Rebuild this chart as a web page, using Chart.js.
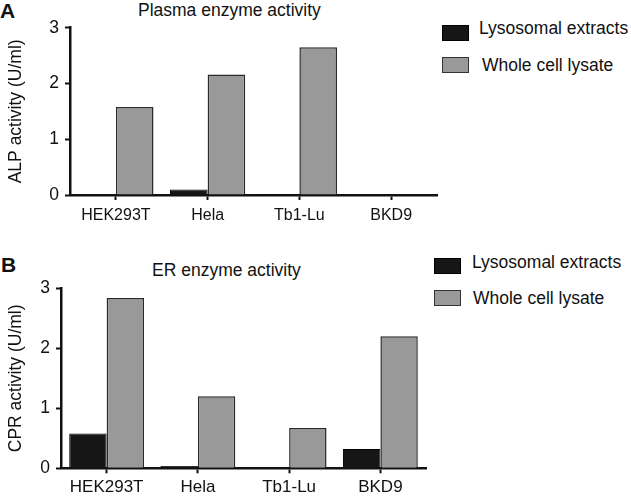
<!DOCTYPE html>
<html>
<head>
<meta charset="utf-8">
<script src="https://cdn.jsdelivr.net/npm/chart.js@4/dist/chart.umd.min.js"></script>
<style>
  html, body { margin: 0; padding: 0; background: #fff; }
  body { width: 631px; height: 496px; position: relative; overflow: hidden;
         font-family: "Liberation Sans", Arial, sans-serif; color: #111; }
  .t { position: absolute; white-space: nowrap; line-height: 1; }
  .sw { position: absolute; box-sizing: border-box; }
  canvas { position: absolute; left: 0; }
</style>
</head>
<body>
<div class="t" style="left:0px;top:0px;font-size:21px;font-weight:bold;">A</div>
<div class="t" style="left:1px;top:254px;font-size:21px;font-weight:bold;">B</div>
<div class="t" id="titleA" style="left:138px;top:2px;font-size:17.5px;"></div>
<div class="t" id="titleB" style="left:152px;top:262px;font-size:17.5px;"></div>

<div class="sw" style="left:442px;top:25px;width:27px;height:16px;background:#161616;border:1px solid #000;"></div>
<div class="sw" style="left:442px;top:57px;width:27px;height:16px;background:#999;border:1.5px solid #333;"></div>
<div class="t" id="legA1" style="left:479px;top:20px;font-size:17.5px;"></div>
<div class="t" id="legA2" style="left:482px;top:57px;font-size:17.5px;"></div>

<div class="sw" style="left:434px;top:258px;width:27px;height:16px;background:#161616;border:1px solid #000;"></div>
<div class="sw" style="left:434px;top:290px;width:27px;height:16px;background:#999;border:1.5px solid #333;"></div>
<div class="t" id="legB1" style="left:472px;top:254px;font-size:17.5px;"></div>
<div class="t" id="legB2" style="left:473px;top:290px;font-size:17.5px;"></div>

<canvas id="chartA" width="631" height="240" style="top:0px;"></canvas>
<canvas id="chartB" width="631" height="256" style="top:240px;"></canvas>

<script>
// ---- data ----
const categories = ["HEK293T", "Hela", "Tb1-Lu", "BKD9"];
const seriesNames = ["Lysosomal extracts", "Whole cell lysate"];
const alpLysosomal = [0, 0.10, 0.02, 0];
const alpWholeCell = [1.58, 2.16, 2.65, 0];
const cprLysosomal = [0.58, 0.04, 0.01, 0.32];
const cprWholeCell = [2.84, 1.20, 0.67, 2.20];
const yTickValues = [0, 1, 2, 3];
const titleA = "Plasma enzyme activity";
const titleB = "ER enzyme activity";
const yTitleA = "ALP activity (U/ml)";
const yTitleB = "CPR activity (U/ml)";

document.getElementById("titleA").textContent = titleA;
document.getElementById("titleB").textContent = titleB;
document.getElementById("legA1").textContent = seriesNames[0];
document.getElementById("legA2").textContent = seriesNames[1];
document.getElementById("legB1").textContent = seriesNames[0];
document.getElementById("legB2").textContent = seriesNames[1];

const FONT = "'Liberation Sans', Arial, sans-serif";
const INK = "#111";

function makeChart(id, lyso, whole, yTitle, cfg) {
  return new Chart(document.getElementById(id), {
    type: "bar",
    data: {
      labels: categories,
      datasets: [
        { label: seriesNames[0], data: lyso, backgroundColor: "#161616",
          borderColor: "#000", borderWidth: 1, borderSkipped: "bottom" },
        { label: seriesNames[1], data: whole, backgroundColor: "#999999",
          borderColor: "#2a2a2a", borderWidth: 1.5, borderSkipped: "bottom" }
      ]
    },
    options: {
      responsive: false,
      animation: false,
      devicePixelRatio: 1,
      layout: { padding: { left: 0, right: cfg.right, top: cfg.top, bottom: 0 } },
      datasets: { bar: { categoryPercentage: 0.82, barPercentage: 1.0 } },
      plugins: { legend: { display: false }, tooltip: { enabled: false }, title: { display: false } },
      scales: {
        x: {
          afterFit: (s) => { s.height = cfg.xh; },
          grid: { display: true, drawOnChartArea: false, drawTicks: true, tickLength: 5,
                  tickWidth: 2, color: INK, offset: false },
          border: { display: true, color: INK, width: 2.5 },
          ticks: { color: INK, padding: cfg.xpad, font: { family: FONT, size: cfg.xfont } }
        },
        y: {
          min: 0, max: 3,
          afterFit: (s) => { s.width = cfg.yw; },
          afterBuildTicks: (s) => { s.ticks = yTickValues.map(v => ({ value: v })); },
          grid: { display: true, drawOnChartArea: false, drawTicks: true, tickLength: 5,
                  tickWidth: 2, color: INK },
          border: { display: true, color: INK, width: 2.5 },
          ticks: { color: INK, padding: 6, font: { family: FONT, size: 17.5 } },
          title: { display: true, text: yTitle, color: INK, padding: { top: 6, bottom: 0 },
                   font: { family: FONT, size: 17.5 } }
        }
      }
    }
  });
}

makeChart("chartA", alpLysosomal, alpWholeCell, yTitleA,
  { right: 194, top: 27.7, xh: 45, yw: 70, xpad: 6, xfont: 16 });
makeChart("chartB", cprLysosomal, cprWholeCell, yTitleB,
  { right: 205, top: 48.3, xh: 27.7, yw: 61, xpad: 4, xfont: 17 });
</script>
</body>
</html>
